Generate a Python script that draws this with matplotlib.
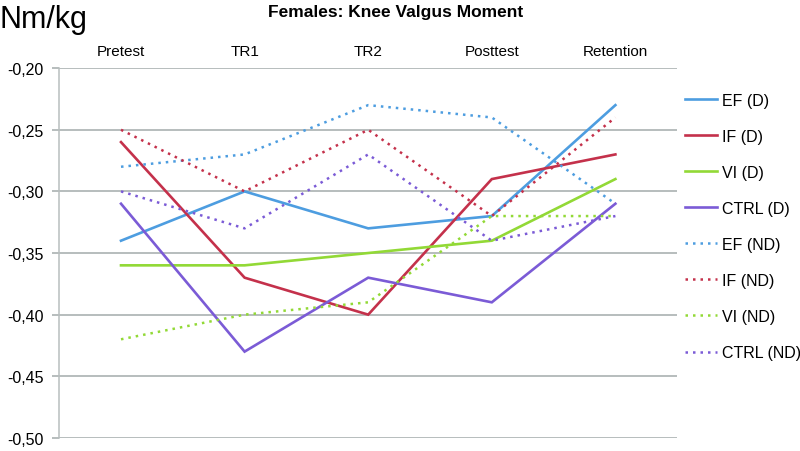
import matplotlib
matplotlib.use("Agg")
import matplotlib.pyplot as plt
from matplotlib.ticker import FuncFormatter

plt.rcParams['font.family'] = ['Liberation Sans', 'DejaVu Sans']

categories = ["Pretest", "TR1", "TR2", "Posttest", "Retention"]
series_names = ["EF (D)", "IF (D)", "VI (D)", "CTRL (D)",
                "EF (ND)", "IF (ND)", "VI (ND)", "CTRL (ND)"]
ef_d = [-0.34, -0.30, -0.33, -0.32, -0.23]
if_d = [-0.26, -0.37, -0.40, -0.29, -0.27]
vi_d = [-0.36, -0.36, -0.35, -0.34, -0.29]
ctrl_d = [-0.31, -0.43, -0.37, -0.39, -0.31]
ef_nd = [-0.28, -0.27, -0.23, -0.24, -0.31]
if_nd = [-0.25, -0.30, -0.25, -0.32, -0.24]
vi_nd = [-0.42, -0.40, -0.39, -0.32, -0.32]
ctrl_nd = [-0.30, -0.33, -0.27, -0.34, -0.32]
y_ticks = [-0.50, -0.45, -0.40, -0.35, -0.30, -0.25, -0.20]

values = [ef_d, if_d, vi_d, ctrl_d, ef_nd, if_nd, vi_nd, ctrl_nd]
colors = ['#4d9de0', '#c4314b', '#92d936', '#7b5bd6'] * 2
styles = ['-'] * 4 + [(0, (1, 2))] * 4
grid_color = '#a3abab'

fig = plt.figure(figsize=(8, 4.52), dpi=100)
ax = fig.add_axes([0.074, 0.029, 0.7725, 0.818])

x = list(range(len(categories)))
for name, vals, c, ls in zip(series_names, values, colors, styles):
    ax.plot(x, vals, color=c, linestyle=ls, linewidth=1.9 if ls == '-' else 1.8,
            label=name, solid_joinstyle='miter')

ax.set_xlim(-0.5, len(categories) - 0.5)
ax.set_ylim(-0.50, -0.20)
ax.set_yticks(y_ticks)
ax.yaxis.set_major_formatter(FuncFormatter(lambda v, p: f"{v:.2f}".replace('.', ',')))
ax.grid(axis='y', color=grid_color, linewidth=1.1)
ax.set_axisbelow(True)
for k, s in ax.spines.items():
    s.set_visible(k == 'left')
ax.spines['left'].set_color('#b8bfbf')
ax.spines['left'].set_linewidth(1.1)
ax.xaxis.tick_top()
ax.set_xticks(x)
ax.set_xticklabels(categories)
ax.tick_params(axis='x', length=0, pad=7, labelsize=11)
ax.tick_params(axis='y', length=5, width=1.1, color=grid_color, direction='out',
               pad=6, labelsize=11.5)

fig.text(0.494, 0.972, "Females: Knee Valgus Moment", ha='center', va='center',
         fontsize=12.5, fontweight='bold')
fig.text(0.0, 0.955, "Nm/kg", ha='left', va='center', fontsize=22)

ax.legend(loc='upper left', bbox_to_anchor=(1.013, 0.934), frameon=False,
          fontsize=11.5, handlelength=2.0, handletextpad=0.3, labelspacing=1.32,
          borderaxespad=0.0, borderpad=0.0)

fig.savefig("out.png", dpi=100)
